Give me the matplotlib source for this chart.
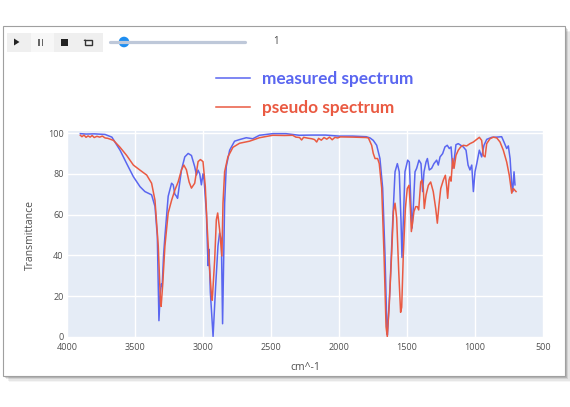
import matplotlib
matplotlib.use('Agg')
import matplotlib.pyplot as plt
from matplotlib.patches import Rectangle, Polygon, Circle
import numpy as np

# measured spectrum (blue), wavenumber in cm^-1 and transmittance in %
meas_wn = [
    3902, 3860, 3800, 3750, 3720, 3670, 3610, 3561, 3512, 3463,
    3427, 3378, 3353, 3336, 3324, 3314, 3306, 3300, 3290, 3280,
    3256, 3231, 3219, 3207, 3195, 3187, 3175, 3158, 3134, 3109,
    3085, 3061, 3048, 3036, 3024, 3012, 3000, 2992, 2975, 2963,
    2956, 2946, 2926, 2907, 2890, 2878, 2865, 2856, 2841, 2829,
    2804, 2768, 2731, 2682, 2634, 2585, 2487, 2390, 2292, 2200,
    2100, 2000, 1900, 1800, 1772, 1748, 1723, 1699, 1679, 1662,
    1647, 1644, 1625, 1605, 1588, 1571, 1557, 1544, 1537, 1527,
    1515, 1495, 1483, 1471, 1463, 1454, 1441, 1429, 1412, 1397,
    1385, 1375, 1360, 1350, 1336, 1319, 1302, 1282, 1270, 1257,
    1238, 1221, 1204, 1189, 1176, 1164, 1152, 1140, 1123, 1105,
    1086, 1066, 1051, 1037, 1024, 1012, 1000, 987, 968, 951,
    934, 914, 877, 840, 804, 787, 767, 755, 742, 730,
    723, 713, 706]
meas_t = [
    99.7, 99.5, 99.6, 99.4, 99.3, 98.0, 91.6, 85.0, 78.6, 73.7,
    71.3, 69.7, 64.0, 49.4, 8.0, 22.0, 26.0, 25.0, 40.0, 49.4,
    69.0, 75.4, 74.6, 70.0, 69.0, 68.0, 73.7, 82.0, 88.3, 90.0,
    89.0, 83.5, 79.4, 81.8, 80.0, 74.6, 80.0, 77.0, 60.8, 35.0,
    43.0, 22.0, 0.3, 25.0, 44.6, 51.0, 48.0, 6.5, 65.6, 83.5,
    91.6, 96.0, 96.8, 97.7, 97.2, 98.9, 99.7, 99.7, 98.9, 99.0,
    99.0, 98.5, 98.5, 98.2, 97.6, 96.4, 94.0, 87.5, 73.0, 40.6,
    1.7, 1.0, 24.4, 56.8, 81.0, 85.0, 81.0, 56.8, 39.0, 56.8,
    81.0, 86.7, 85.8, 64.7, 53.4, 63.0, 81.0, 82.7, 86.7, 85.0,
    71.3, 81.0, 85.8, 87.5, 81.9, 82.7, 85.0, 86.7, 84.3, 88.3,
    89.9, 93.2, 94.0, 92.4, 93.2, 82.7, 87.5, 94.3, 94.8, 94.0,
    93.2, 91.6, 84.3, 81.9, 84.3, 71.3, 81.0, 85.0, 91.6, 88.3,
    94.0, 96.9, 97.9, 98.0, 98.2, 95.6, 92.4, 93.7, 87.5, 74.6,
    71.3, 81.0, 74.6]

# pseudo spectrum (red)
pseudo_wn = [
    3902, 3890, 3875, 3860, 3845, 3830, 3815, 3800, 3780, 3760,
    3740, 3720, 3700, 3658, 3610, 3561, 3512, 3463, 3414, 3378,
    3353, 3329, 3312, 3308, 3297, 3280, 3256, 3231, 3207, 3183,
    3158, 3141, 3122, 3102, 3085, 3061, 3036, 3019, 3000, 2983,
    2971, 2956, 2936, 2932, 2914, 2902, 2892, 2878, 2861, 2853,
    2841, 2817, 2780, 2731, 2658, 2585, 2487, 2400, 2341, 2317,
    2290, 2275, 2260, 2230, 2200, 2180, 2164, 2150, 2130, 2110,
    2090, 2070, 2050, 2030, 2010, 1990, 1900, 1800, 1784, 1760,
    1748, 1735, 1716, 1704, 1686, 1669, 1654, 1645, 1630, 1613,
    1600, 1588, 1576, 1561, 1547, 1539, 1527, 1512, 1498, 1485,
    1475, 1468, 1458, 1449, 1436, 1424, 1414, 1399, 1390, 1380,
    1373, 1360, 1343, 1326, 1307, 1289, 1277, 1265, 1252, 1233,
    1218, 1208, 1201, 1191, 1184, 1176, 1164, 1154, 1140, 1123,
    1105, 1086, 1061, 1037, 1012, 987, 968, 951, 939, 926,
    914, 890, 865, 840, 816, 792, 767, 748, 730, 718,
    698]
pseudo_t = [
    98.9, 98.2, 99.0, 97.9, 98.6, 98.0, 98.8, 97.8, 98.4, 98.0,
    98.5, 97.6, 97.4, 96.4, 93.0, 89.0, 84.3, 81.8, 79.4, 75.4,
    67.0, 44.6, 16.0, 15.0, 25.0, 44.6, 60.8, 67.0, 72.0, 76.0,
    82.0, 84.3, 82.0, 76.0, 73.0, 75.4, 86.0, 87.0, 86.0, 73.7,
    56.0, 38.0, 18.5, 18.0, 38.0, 57.5, 60.8, 52.7, 39.7, 65.6,
    81.0, 88.3, 93.0, 95.0, 96.0, 97.7, 98.9, 98.8, 98.9, 98.0,
    97.8, 96.6, 97.9, 97.5, 97.2, 96.8, 95.6, 97.4, 96.5, 97.8,
    97.0, 98.0, 96.7, 97.9, 97.6, 98.1, 98.0, 97.8, 97.6, 94.0,
    90.0, 87.5, 87.5, 85.0, 73.0, 40.6, 5.0, 0.2, 16.4, 40.6,
    61.5, 65.6, 58.3, 32.4, 12.1, 14.6, 40.6, 63.0, 72.8, 74.4,
    63.0, 51.7, 56.6, 61.5, 63.9, 63.9, 62.3, 76.0, 76.9, 72.8,
    63.0, 69.6, 74.4, 76.0, 71.3, 63.0, 55.8, 64.7, 72.8, 76.9,
    79.3, 73.6, 68.0, 76.9, 78.5, 76.4, 87.5, 82.7, 89.0, 91.6,
    93.2, 94.0, 93.7, 94.8, 95.6, 96.9, 97.9, 96.4, 89.0, 88.3,
    94.8, 97.2, 98.0, 97.6, 95.6, 91.6, 85.8, 79.3, 70.5, 72.8,
    71.3]

x_ticks = [4000, 3500, 3000, 2500, 2000, 1500, 1000, 500]
y_ticks = [0, 20, 40, 60, 80, 100]
frame_label = '1'

W, H = 570, 407
plt.rcParams['font.family'] = ['Open Sans', 'DejaVu Sans']

fig = plt.figure(figsize=(W / 100, H / 100), dpi=100)
fig.patch.set_facecolor('white')

# screenshot frame and the animation controls, in pixel coordinates
bg = fig.add_axes([0, 0, 1, 1])
bg.set_xlim(0, W)
bg.set_ylim(H, 0)
bg.axis('off')
for i, a in enumerate([0.04, 0.06, 0.09, 0.13]):
    off = 6 - i * 1.3
    bg.add_patch(Rectangle((3 + off, 26 + off), 562, 350, fc='#000000',
                           alpha=a, ec='none'))
bg.add_patch(Rectangle((3, 26), 562, 350, fc='white', ec='#a0a0a0', lw=0.8))

bg.add_patch(Rectangle((7, 33), 96, 19, fc='#efefef', ec='none'))
bg.add_patch(Rectangle((31, 33), 23, 19, fc='#f7f7f7', ec='none'))
bg.add_patch(Polygon([(14, 38.5), (14, 45.5), (19.5, 42)], closed=True,
                     fc='#222222', ec='none'))
bg.add_patch(Rectangle((38, 38.5), 1.8, 7, fc='#666666', ec='none'))
bg.add_patch(Rectangle((41.5, 38.5), 1.8, 7, fc='#666666', ec='none'))
bg.add_patch(Rectangle((61, 38.5), 7, 7, fc='#222222', ec='none'))
bg.add_patch(Rectangle((85, 39.5), 7, 5, fc='none', ec='#333333', lw=1.0))
bg.add_patch(Polygon([(83.5, 41), (86.5, 41), (85, 39)], closed=True,
                     fc='#333333', ec='none'))
bg.plot([110, 245], [42, 42], color='#bec8d9', lw=2.3,
        solid_capstyle='round')
bg.add_patch(Circle((124, 42), 5.3, fc='#1f8ef1', ec='none'))
bg.text(276, 42, frame_label, ha='center', va='center', fontsize=7,
        color='#444444')

# spectrum axes
ax = fig.add_axes([67 / W, 1 - 337 / H, 476 / W, 206 / H])
ax.set_facecolor('#E5ECF6')
l1, = ax.plot(meas_wn, meas_t, color='#5a66f0', lw=1.1,
              label='measured spectrum')
l2, = ax.plot(pseudo_wn, pseudo_t, color='#ea5a42', lw=1.1,
              label='pseudo spectrum')
ax.set_xlim(4000, 500)
ax.set_ylim(0, 101)
ax.set_xticks(x_ticks)
ax.set_yticks(y_ticks)
ax.grid(True, color='white', lw=1.0)
ax.set_axisbelow(True)
for s in ax.spines.values():
    s.set_visible(False)
ax.tick_params(length=0, labelsize=6.5, labelcolor='#505050')
ax.tick_params(axis='x', pad=4)
ax.tick_params(axis='y', pad=2.5)
ax.set_xlabel('cm^-1', fontsize=7.5, color='#505050')
ax.set_ylabel('Transmittance', fontsize=7.5, color='#505050')
ax.xaxis.set_label_coords(0.5, -0.12)
ax.yaxis.set_label_coords(-0.066, 0.495)

fig.legend(handles=[l1, l2], loc='center left',
           bbox_to_anchor=(207 / W, 1 - 93.5 / H), frameon=False,
           borderpad=0, handlelength=2.0, handletextpad=0.7,
           labelspacing=0.7, labelcolor='linecolor',
           prop={'family': 'Lato', 'weight': 'bold', 'size': 12.4})

fig.savefig('out.png', dpi=100)
